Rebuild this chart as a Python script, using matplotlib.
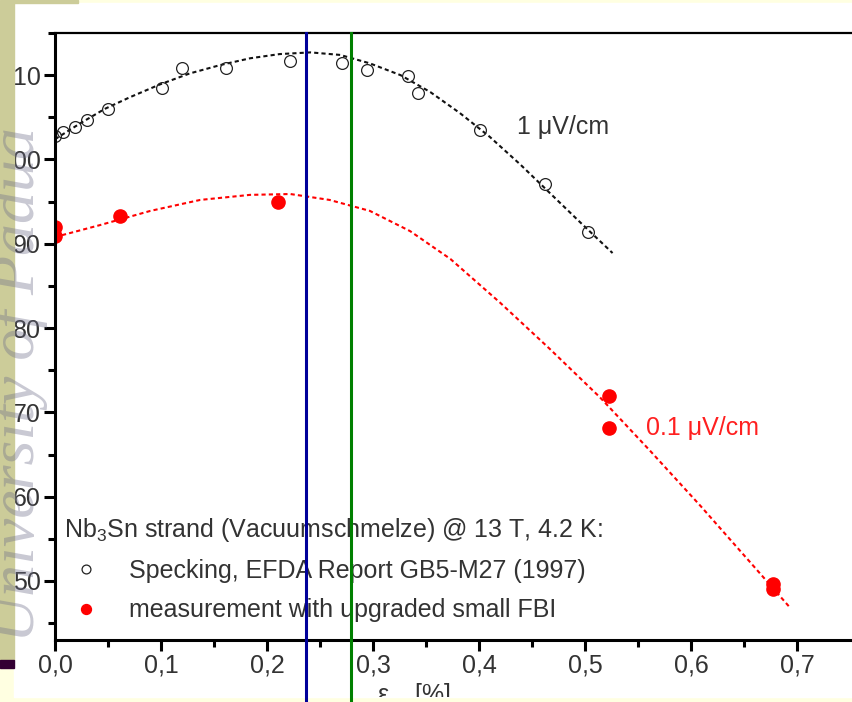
import numpy as np
import matplotlib.pyplot as plt
from matplotlib.patches import Rectangle
from matplotlib.transforms import Bbox

plt.rcParams['font.family'] = ['Liberation Sans', 'DejaVu Sans']
plt.rcParams['mathtext.fontset'] = 'custom'
plt.rcParams['mathtext.rm'] = 'Liberation Sans'
plt.rcParams['mathtext.it'] = 'Liberation Sans:italic'

# data
spec_x = [0.0, 0.008, 0.019, 0.030, 0.050, 0.101, 0.120, 0.161, 0.222, 0.271,
          0.294, 0.333, 0.342, 0.401, 0.462, 0.503]
spec_y = [102.8, 103.2, 103.8, 104.7, 106.0, 108.5, 110.8, 110.9, 111.7, 111.5,
          110.6, 109.9, 107.9, 103.5, 97.1, 91.4]

meas_x = [0.0, 0.0, 0.061, 0.210, 0.523, 0.523, 0.677, 0.677]
meas_y = [92.0, 90.9, 93.3, 94.9, 71.9, 68.1, 49.7, 49.1]

# dashed fit curves
fit1_x = [0.0, 0.024, 0.047, 0.071, 0.099, 0.127, 0.156, 0.184, 0.212, 0.241,
          0.269, 0.297, 0.326, 0.354, 0.382, 0.410, 0.439, 0.467, 0.495, 0.526]
fit1_y = [102.4, 104.3, 106.0, 107.4, 108.9, 110.2, 111.2, 112.0, 112.5, 112.7,
          112.4, 111.4, 110.0, 108.0, 105.5, 102.7, 99.4, 96.0, 92.6, 88.9]

fit2_x = [0.0, 0.042, 0.090, 0.137, 0.184, 0.222, 0.259, 0.297, 0.335, 0.373,
          0.420, 0.467, 0.514, 0.561, 0.609, 0.656, 0.693]
fit2_y = [90.8, 92.2, 93.9, 95.2, 95.8, 95.9, 95.2, 93.9, 91.5, 88.2,
          83.0, 77.5, 71.8, 65.5, 58.9, 52.2, 46.9]

vlines_x = [0.237, 0.279]
vlines_c = ['#000099', '#008000']

xticks = [0.0, 0.1, 0.2, 0.3, 0.4, 0.5, 0.6, 0.7]
xlabels = ['0,0', '0,1', '0,2', '0,3', '0,4', '0,5', '0,6', '0,7']
yticks = [50, 60, 70, 80, 90, 100, 110]
ylabels = ['50', '60', '70', '80', '90', '100', '110']

W, H = 853, 702
def box(x0, y0, x1, y1):
    # pixel box (top origin) -> figure fraction
    return x0 / W, 1 - y1 / H, (x1 - x0) / W, (y1 - y0) / H

fig = plt.figure(figsize=(8.53, 7.02), dpi=100, facecolor='#FFFFE1')

# slide background pieces
b = box(14, 3, 853, 697)
fig.add_artist(Rectangle(b[:2], *b[2:], transform=fig.transFigure,
                         color='white', zorder=-5))
for (b, c) in [(box(0, 0, 14, 660), '#CCCC99'), (box(14, 0, 78, 3), '#CCCC99'),
               (box(0, 660, 14, 668), '#330033')]:
    fig.add_artist(Rectangle(b[:2], *b[2:], transform=fig.transFigure,
                             color=c, zorder=5))

ax = fig.add_axes(box(55, 33, 853, 640))
ax.set_facecolor('white')

ax.plot(fit1_x, fit1_y, color='#111111', lw=1.5, ls=(0, (2, 1.5)))
ax.plot(fit2_x, fit2_y, color='#FF0000', lw=1.5, ls=(0, (2, 1.5)))
ax.plot(spec_x, spec_y, 'o', mfc='none', mec='#222222', mew=0.9, ms=8.5,
        label='Specking, EFDA Report GB5-M27 (1997)')
ax.plot(meas_x, meas_y, 'o', color='#FF0000', ms=9.5,
        label='measurement with upgraded small FBI')

for x, c in zip(vlines_x, vlines_c):
    ax.axvline(x, ymin=-0.12, ymax=1, color=c, lw=2.2, clip_on=False, zorder=6)

ax.set_xlim(0, (853 - 55) / 1060)
ax.set_ylim(43, 115)
ax.set_xticks(xticks)
ax.set_xticklabels(xlabels)
ax.set_yticks(yticks)
ax.set_yticklabels(ylabels)
ax.set_xticks(np.arange(0.05, 0.75, 0.1), minor=True)
ax.set_yticks(np.arange(45, 116, 10), minor=True)
ax.tick_params(which='major', length=8, width=2.2, direction='out',
               labelsize=18, labelcolor='#333333', pad=2)
ax.tick_params(which='minor', length=5, width=2.2, direction='out')
ax.spines['left'].set_linewidth(2.2)
ax.spines['bottom'].set_linewidth(2.2)
ax.spines['top'].set_linewidth(1.6)
ax.spines['right'].set_visible(False)

ax.text(0.436, 103.8, '1 μV/cm', fontsize=18, color='#333333', va='center')
ax.text(0.558, 68.2, '0.1 μV/cm', fontsize=18, color='#FF2020', va='center')

leg = ax.legend(title='Nb$_3$Sn strand (Vacuumschmelze) @ 13 T, 4.2 K:',
                loc='lower left', bbox_to_anchor=(-0.011, 0.0), frameon=False,
                fontsize=18, title_fontsize=18, alignment='left',
                handlelength=1.8, handletextpad=0.8, labelspacing=0.62,
                markerscale=0.75, borderaxespad=0.3)
for t in leg.get_texts():
    t.set_color('#333333')
leg.get_title().set_color('#333333')

ax.set_xlabel('ε$_{ax}$ [%]', fontsize=18, color='#333333')
ax.xaxis.set_label_coords(0.45, -0.068)
lab = ax.xaxis.label
lab.set_va('top')
lab.set_clip_box(Bbox.from_bounds(0, 5, W, H))
lab.set_clip_on(True)

# faint slide watermark over the left edge
fig.text(34 / W, 1 - 642 / H, 'University of Padua', rotation=90,
         rotation_mode='anchor', ha='left', va='baseline', fontsize=46,
         family='Liberation Serif', style='italic', color='#70708a',
         alpha=0.38, zorder=10)

fig.savefig('out.png', dpi=100, facecolor=fig.get_facecolor())
